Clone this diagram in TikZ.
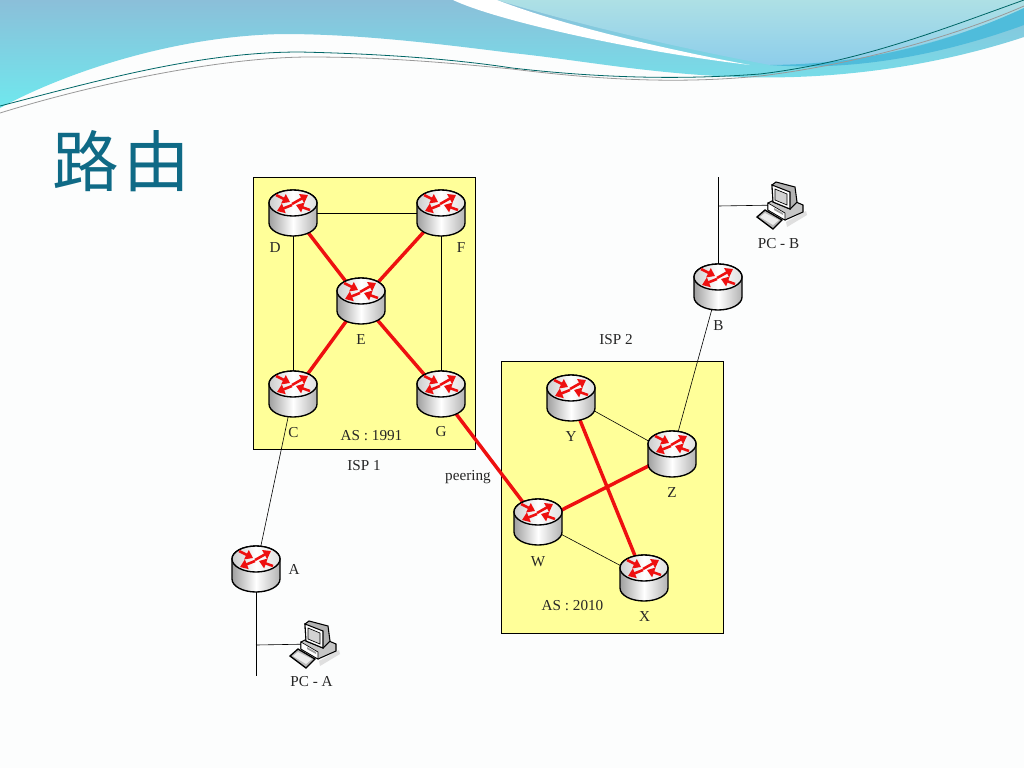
\documentclass[tikz,border=0pt]{standalone}
\usepackage{fontspec}
\setmainfont{Liberation Serif}
\newfontfamily\cjk{Noto Sans CJK SC}
\usetikzlibrary{arrows.meta}
\definecolor{bgc}{HTML}{FCFDFD}
\definecolor{yel}{HTML}{FFFF99}
\definecolor{titlec}{HTML}{0F6A86}
\definecolor{redl}{HTML}{EE1010}
\definecolor{HeadA}{HTML}{8BBFD9}
\definecolor{HeadB}{HTML}{6FE8EE}
\definecolor{HeadC}{HTML}{AEE0E5}
\definecolor{HeadD}{HTML}{8CCDEB}
\definecolor{HeadE}{HTML}{4FBCDB}
\tikzset{
 rt/.style={circle,minimum size=22.5pt,inner sep=0pt},
 thinl/.style={draw=black,line width=0.45pt},
 redlink/.style={draw=redl,line width=2.6pt},
 lab/.style={font=\fontsize{11.4}{13}\selectfont,inner sep=0pt,text=black!85},
 asbox/.style={draw=black,line width=0.5pt,fill=yel},
 arr/.style={draw=redl,fill=redl,line width=1.9pt,-{Triangle[length=5.5pt,width=7.5pt]}},
 router/.pic={
  \path[left color=gray!75,right color=gray!60,middle color=white,draw=black,line width=1pt]
    (-24,-10) -- (-24,10) arc[start angle=180,end angle=0,x radius=24,y radius=13] -- (24,-10)
    arc[start angle=0,end angle=-180,x radius=24,y radius=13] -- cycle;
  \path[left color=gray!40,right color=gray!25,middle color=white,draw=black,line width=1pt]
    (0,-10) ellipse[x radius=24,y radius=13];
  \draw[arr] (-1,-9) -- (15,-18);
  \draw[arr] (-1,-8) -- (-16,-2);
  \draw[arr] (-17,-18) -- (-3,-11);
  \draw[arr] (17,-3) -- (3,-8);
 },
 pcicon/.pic={
  \fill[gray!25] (6,17) -- (26,6) -- (27,10) -- (7,22) -- cycle;
  \filldraw[fill=gray!45,draw=black,line width=.8pt] (-12,-2) -- (-12,5) -- (5,15) -- (23,7) -- (23,0) -- (2,-9) -- cycle;
  \filldraw[fill=white,draw=black,line width=.5pt] (-12,-2) -- (5,8) -- (5,15) -- (-12,5) -- cycle;
  \fill[gray!75] (-6,3) -- (3,8) -- (3,10) -- (-6,5) -- cycle;
  \filldraw[fill=gray!60,draw=black,line width=.8pt] (-8,-20) -- (-4,-23) -- (15,-18) -- (17,-3) -- (10,4) -- (-7,-3) -- cycle;
  \filldraw[fill=white,draw=black,line width=.8pt] (-8,-20) -- (10,-13) -- (10,4) -- (-7,-3) -- cycle;
  \filldraw[fill=gray!35,draw=black,line width=.5pt] (-5,-16) -- (7,-11) -- (7,0) -- (-5,-5) -- cycle;
  \filldraw[fill=gray!55,draw=black,line width=1pt] (-23,12) -- (-15,5) -- (2,15) -- (-7,24) -- cycle;
  \fill[gray!15] (-20,12) -- (-15,8) -- (-1,15) -- (-7,20) -- cycle;
 },
}
\begin{document}
\begin{tikzpicture}[x=0.75pt,y=-0.75pt]
\useasboundingbox (0,0) rectangle (1024,768);
\fill[bgc] (0,0) rectangle (1024,768);
\path[top color=HeadA,bottom color=HeadB] (0,0) -- (1024,0) -- (1024,37)
  .. controls (930,68) and (830,80) .. (740,77)
  .. controls (650,74) and (580,60) .. (512,53)
  .. controls (440,44) and (360,34) .. (283,34)
  .. controls (170,36) and (60,75) .. (0,108) -- cycle;
\path[top color=HeadC,bottom color=HeadD] (497,0) -- (1024,0) -- (1024,10)
  .. controls (950,40) and (860,66) .. (770,65)
  .. controls (690,50) and (590,28) .. (497,0) -- cycle;
\fill[white] (453,0) .. controls (500,22) and (640,52) .. (750,65)
  .. controls (680,52) and (570,28) .. (497,0) -- cycle;
\fill[HeadE] (1024,8) .. controls (950,42) and (870,64) .. (770,65)
  .. controls (860,72) and (950,52) .. (1024,25) -- cycle;
\path[draw=teal!80!black,line width=.6pt] (0,106) .. controls (100,80) and (200,52) .. (300,52)
  .. controls (390,54) and (460,60) .. (512,68) .. controls (600,78) and (680,80) .. (760,74)
  .. controls (860,62) and (940,30) .. (1024,0);
\path[draw=gray!80,line width=.6pt] (0,113) .. controls (90,85) and (220,57) .. (310,57)
  .. controls (390,57) and (460,64) .. (512,69) .. controls (600,80) and (680,84) .. (760,76)
  .. controls (860,64) and (960,34) .. (1024,6);
\node[anchor=center,inner sep=0pt,text=titlec,font=\cjk\fontsize{50}{50}\selectfont] (title) at (121.5,161.5) {路\hspace{3pt}由};
\node[asbox,anchor=north west,minimum width=166.5pt,minimum height=204pt,inner sep=0pt] (as1) at (253,177) {};
\node[asbox,anchor=north west,minimum width=166.5pt,minimum height=204pt,inner sep=0pt] (as2) at (501,361) {};
\node[rt] (D) at (293,213) {};
\node[rt] (F) at (441,213) {};
\node[rt] (E) at (361,301) {};
\node[rt] (C) at (293,394) {};
\node[rt] (G) at (441,394) {};
\node[rt] (Y) at (571,398) {};
\node[rt] (Z) at (672,454) {};
\node[rt] (W) at (538,522) {};
\node[rt] (X) at (644,578) {};
\node[rt] (A) at (256,569) {};
\node[rt] (B) at (718,287) {};
\coordinate (Atail) at (256,676);
\coordinate (Ajoin) at (256,645);
\coordinate (Btail) at (718,177);
\coordinate (Bjoin) at (718,206);
\node[inner sep=0pt,minimum size=1pt] (pcA) at (313,644) {};
\node[inner sep=0pt,minimum size=1pt] (pcB) at (780,205) {};
\draw[thinl] (D) -- (F);
\draw[thinl] (D) -- (C);
\draw[thinl] (F) -- (G);
\draw[thinl] (Y) -- (Z);
\draw[thinl] (W) -- (X);
\draw[thinl] (Z) -- (B);
\draw[thinl] (C) -- (A);
\draw[thinl] (A) -- (Atail);
\draw[thinl] (Ajoin) -- (pcA);
\draw[thinl] (B) -- (Btail);
\draw[thinl] (Bjoin) -- (pcB);
\draw[redlink] (D) -- (E);
\draw[redlink] (F) -- (E);
\draw[redlink] (C) -- (E);
\draw[redlink] (G) -- (E);
\draw[redlink] (G) -- (W);
\draw[redlink] (Y) -- (X);
\draw[redlink] (W) -- (Z);
\foreach \r in {D,F,E,C,G,Y,Z,W,X,A,B} \pic at (\r) {router};
\pic at (pcA) {pcicon};
\pic at (pcB) {pcicon};
\node[lab] (lD) at (275,248) {D};
\node[lab] (lF) at (461,248) {F};
\node[lab] (lE) at (361,340) {E};
\node[lab] (lC) at (293.5,433) {C};
\node[lab] (lG) at (441,432) {G};
\node[lab] (las1) at (371.5,436) {AS : 1991};
\node[lab] (lisp1) at (364,466) {ISP 1};
\node[lab] (lpeer) at (468,477) {peering};
\node[lab] (lisp2) at (616,340) {ISP 2};
\node[lab] (lY) at (571,437) {Y};
\node[lab] (lZ) at (672,493) {Z};
\node[lab] (lW) at (538,562) {W};
\node[lab] (lX) at (644.5,617) {X};
\node[lab] (las2) at (572.5,606) {AS : 2010};
\node[lab] (lA) at (294,569) {A};
\node[lab] (lB) at (718.5,326) {B};
\node[lab] (lpcb) at (778.5,244) {PC - B};
\node[lab] (lpca) at (311.5,682) {PC - A};
\end{tikzpicture}
\end{document}
